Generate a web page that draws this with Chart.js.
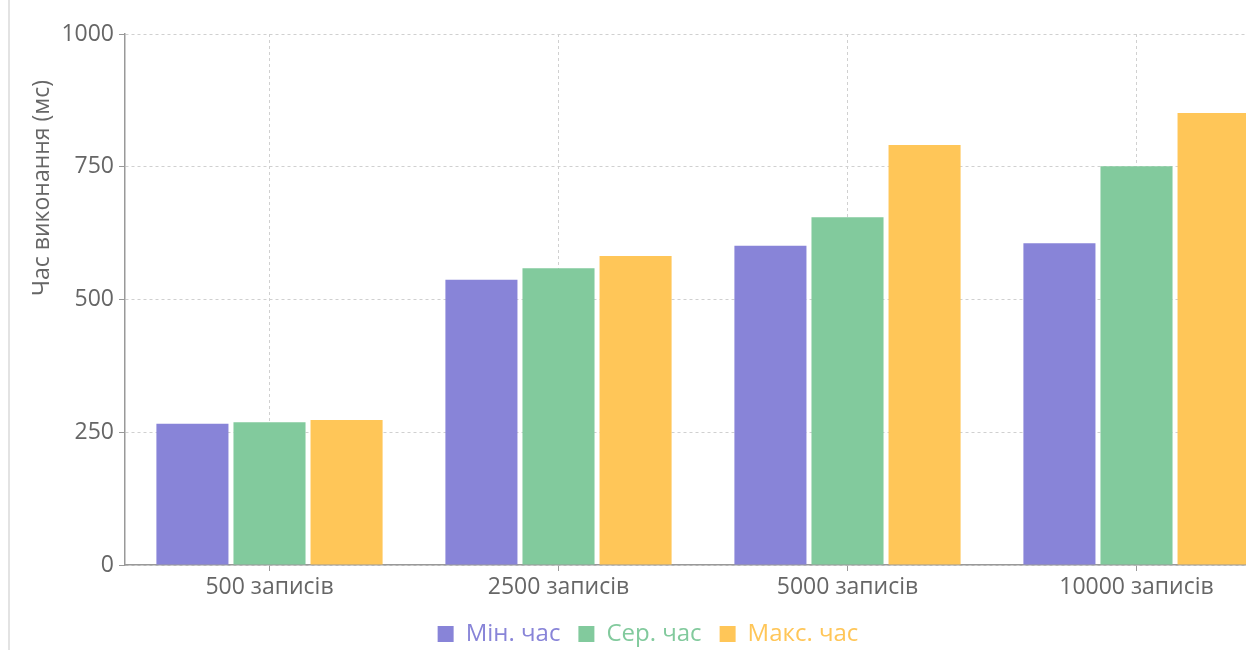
<!DOCTYPE html>
<html>
<head>
<meta charset="utf-8">
<script src="https://cdn.jsdelivr.net/npm/chart.js@4.4.1/dist/chart.umd.min.js"></script>
<style>
  html, body { margin: 0; padding: 0; background: #fff; overflow: hidden; }
  #wrap { position: relative; width: 1246px; height: 650px; overflow: hidden; }
  #edge { position: absolute; left: 8px; top: 0; width: 2px; height: 650px; background: #e3e3e3; }
  #box { position: absolute; left: 0; top: 0; width: 1296px; height: 650px; }
</style>
</head>
<body>
<div id="wrap">
  <div id="edge"></div>
  <div id="box"><canvas id="c"></canvas></div>
</div>
<script>
// Час виконання запитів залежно від кількості записів
const categories = ['500 записів', '2500 записів', '5000 записів', '10000 записів'];
const minTime = [266, 537, 601, 606];
const avgTime = [269, 559, 655, 751];
const maxTime = [273, 582, 791, 851];
const yTicks = [0, 250, 500, 750, 1000];

const seriesNames = ['Мін. час', 'Сер. час', 'Макс. час'];
const seriesColors = ['#8884d8', '#82ca9d', '#ffc658'];

const FONT = "'Open Sans', 'Noto Sans', sans-serif";
const TEXT = '#666';
const PLOT_BOTTOM = 565;
const PAD_BOTTOM = -6;
const PAD_SIDE = 15;

// Підпис осі Y, розміщений ближче до верхньої частини осі
const yTitle = {
  id: 'yTitle',
  afterDraw(chart) {
    const ctx = chart.ctx;
    ctx.save();
    ctx.translate(42, 188);
    ctx.rotate(-Math.PI / 2);
    ctx.font = '23px ' + FONT;
    ctx.fillStyle = TEXT;
    ctx.textAlign = 'center';
    ctx.textBaseline = 'middle';
    ctx.fillText('Час виконання (мс)', 0, 0);
    ctx.restore();
  }
};

const values = [minTime, avgTime, maxTime];

new Chart(document.getElementById('c'), {
  type: 'bar',
  data: {
    labels: categories,
    datasets: values.map((v, i) => ({
      label: seriesNames[i],
      data: v,
      backgroundColor: seriesColors[i],
      borderWidth: 0,
      categoryPercentage: 0.8,
      barPercentage: 0.935
    }))
  },
  options: {
    responsive: true,
    maintainAspectRatio: false,
    animation: false,
    layout: { padding: { left: PAD_SIDE, right: PAD_SIDE, top: 34, bottom: PAD_BOTTOM } },
    plugins: {
      tooltip: { enabled: false },
      legend: {
        position: 'bottom',
        labels: {
          font: { family: FONT, size: 24 },
          boxWidth: 16,
          boxHeight: 16,
          padding: 18,
          generateLabels(chart) {
            const items = Chart.defaults.plugins.legend.labels.generateLabels(chart);
            items.forEach(it => { it.fontColor = it.fillStyle; it.lineWidth = 0; });
            return items;
          }
        }
      }
    },
    scales: {
      x: {
        offset: true,
        grid: {
          offset: false,
          color: '#d0d0d0',
          tickLength: 6,
          tickColor: '#999',
          tickBorderDash: []
        },
        border: { color: '#999', width: 1.5, dash: [3, 3] },
        ticks: { color: TEXT, font: { family: FONT, size: 23 }, padding: 3, maxRotation: 0 },
        afterFit(scale) {
          const legendH = scale.chart.legend ? scale.chart.legend.height : 0;
          scale.height = scale.chart.height - PAD_BOTTOM - legendH - PLOT_BOTTOM;
        }
      },
      y: {
        min: 0,
        max: 1000,
        afterBuildTicks(scale) { scale.ticks = yTicks.map(v => ({ value: v })); },
        grid: {
          color: '#d0d0d0',
          tickLength: 6,
          tickColor: '#999',
          tickBorderDash: []
        },
        border: { color: '#999', width: 1.5, dash: [3, 3] },
        ticks: {
          color: TEXT,
          font: { family: FONT, size: 23 },
          padding: 5,
          callback: v => String(v)
        },
        afterFit(scale) { scale.width = 125 - PAD_SIDE; }
      }
    }
  },
  plugins: [yTitle]
});
</script>
</body>
</html>
